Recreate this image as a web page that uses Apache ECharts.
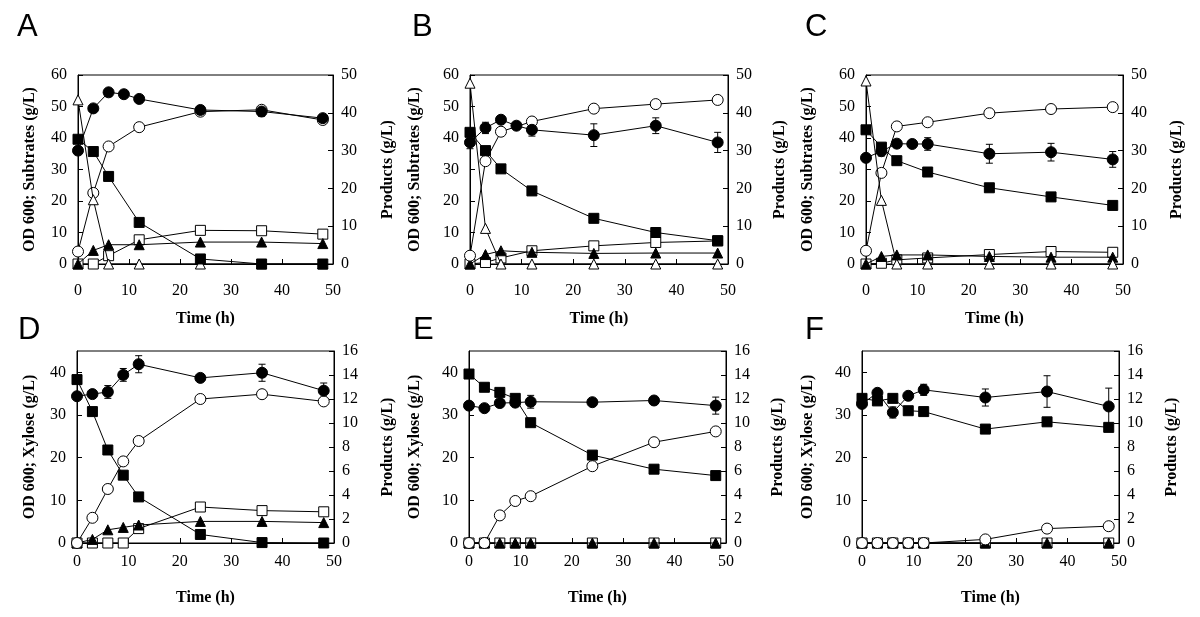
<!DOCTYPE html>
<html><head><meta charset="utf-8">
<script src="https://cdn.jsdelivr.net/npm/echarts@6/dist/echarts.min.js"></script>
<style>html,body{margin:0;padding:0;background:#fff}#c{width:1200px;height:617px}</style>
</head><body><div id="c"></div>
<script>
// ---------- DATA ----------
const times = [0, 3, 6, 9, 12, 24, 36, 48];
const panelLetters = ['A', 'B', 'C', 'D', 'E', 'F'];
const xAxisTitle = 'Time (h)';
const leftTitleTop = 'OD 600; Subtrates (g/L)';
const leftTitleBottom = 'OD 600; Xylose (g/L)';
const rightTitle = 'Products (g/L)';

// Panel A (left axis: OD, filled square, open triangle; right axis: open circle, open square, filled triangle)
const A_od       = [36.0, 49.4, 54.5, 53.9, 52.4, 48.9, 48.4, 46.3];
const A_odErr    = [0, 0, 0, 0, 0, 0.5, 1.5, 0.5];
const A_fSquare  = [39.6, 35.7, 27.8, null, 13.2, 1.6, 0, 0];
const A_oTri     = [52.1, 20.4, 0, null, 0, 0, 0, 0];
const A_oCircle  = [3.3, 18.8, 31.1, null, 36.2, 40.3, 40.8, 38.1];
const A_oSquare  = [0, 0, 2.2, null, 6.4, 8.9, 8.8, 7.9];
const A_fTri     = [0, 3.6, 5.1, null, 5.1, 5.8, 5.8, 5.4];

// Panel B
const B_od       = [38.6, 43.2, 45.8, 43.9, 42.6, 40.9, 43.9, 38.6];
const B_odErr    = [2.0, 1.8, 0.5, 1.0, 2.0, 3.6, 2.5, 3.2];
const B_fSquare  = [41.8, 36.0, 30.2, null, 23.2, 14.5, 10.0, 7.4];
const B_oTri     = [57.4, 11.3, 0, null, 0, 0, 0, 0];
const B_oCircle  = [2.2, 27.2, 35.0, null, 37.7, 41.1, 42.3, 43.4];
const B_oSquare  = [0, 0.4, 1.6, null, 3.5, 4.8, 5.7, 6.1];
const B_fTri     = [0, 2.5, 3.5, null, 3.1, 2.8, 2.9, 2.9];

// Panel C
const C_od       = [33.7, 35.8, 38.2, 38.1, 38.1, 35.0, 35.5, 33.2];
const C_odErr    = [0.5, 1.5, 0.5, 0.5, 2.0, 3.0, 2.8, 2.5];
const C_fSquare  = [42.6, 37.1, 32.8, null, 29.2, 24.2, 21.3, 18.6];
const C_oTri     = [58.1, 20.2, 0, null, 0, 0, 0, 0];
const C_oCircle  = [3.5, 24.1, 36.4, null, 37.5, 39.9, 41.0, 41.5];
const C_oSquare  = [0, 0.2, 1.1, null, 1.6, 2.5, 3.3, 3.1];
const C_fTri     = [0, 2.0, 2.4, null, 2.4, 2.0, 1.8, 1.8];

// Panel D (left axis: OD, filled square; right axis: open circle, open square, filled triangle)
const D_od       = [34.4, 34.9, 35.4, 39.4, 41.9, 38.7, 39.9, 35.7];
const D_odErr    = [0, 0, 1.5, 1.5, 2.0, 0.5, 2.0, 1.8];
const D_fSquare  = [38.3, 30.8, 21.8, 15.9, 10.8, 2.0, 0.1, 0];
const D_oCircle  = [0, 2.1, 4.5, 6.8, 8.5, 12.0, 12.4, 11.8];
const D_oSquare  = [0, 0, 0, 0, 1.2, 3.0, 2.7, 2.6];
const D_fTri     = [0, 0.3, 1.1, 1.3, 1.5, 1.8, 1.8, 1.7];

// Panel E
const E_od       = [32.2, 31.6, 32.8, 32.9, 33.1, 33.0, 33.4, 32.2];
const E_odErr    = [0, 0, 0, 0.5, 1.5, 0, 0, 2.0];
const E_fSquare  = [39.6, 36.5, 35.3, 33.9, 28.2, 20.6, 17.3, 15.8];
const E_oCircle  = [0, 0, 2.3, 3.5, 3.9, 6.4, 8.4, 9.3];
const E_oSquare  = [0, 0, 0, 0, 0, 0, 0, 0];
const E_fTri     = [0, 0, 0, 0, 0, 0, 0, 0];

// Panel F
const F_od       = [32.6, 35.2, 30.6, 34.5, 35.9, 34.1, 35.5, 32.0];
const F_odErr    = [0.5, 0, 1.3, 0, 1.3, 2.0, 3.7, 4.3];
const F_fSquare  = [33.9, 33.3, 33.9, 31.0, 30.8, 26.7, 28.4, 27.1];
const F_oCircle  = [0, 0, 0, 0, 0, 0.3, 1.2, 1.4];
const F_oSquare  = [0, 0, 0, 0, 0, 0, 0, 0];
const F_fTri     = [0, 0, 0, 0, 0, 0, 0, 0];

// ---------- LAYOUT ----------
const panels = [
  {letter:'A', lx:17, ly:12,   grid:{left:78,  top:75,  width:255, height:189}, lMax:60, lInt:10, rMax:50, rInt:10, lTitle:leftTitleTop, lGap:40, rGap:47, xMargin:19,
   left:{od:A_od, err:A_odErr, fSquare:A_fSquare, oTri:A_oTri}, right:{oCircle:A_oCircle, oSquare:A_oSquare, fTri:A_fTri}},
  {letter:'B', lx:412, ly:12,  grid:{left:470, top:75,  width:258, height:189}, lMax:60, lInt:10, rMax:50, rInt:10, lTitle:leftTitleTop, lGap:47, rGap:44, xMargin:19,
   left:{od:B_od, err:B_odErr, fSquare:B_fSquare, oTri:B_oTri}, right:{oCircle:B_oCircle, oSquare:B_oSquare, fTri:B_fTri}},
  {letter:'C', lx:805, ly:12,  grid:{left:866, top:75,  width:257, height:189}, lMax:60, lInt:10, rMax:50, rInt:10, lTitle:leftTitleTop, lGap:50, rGap:46, xMargin:19,
   left:{od:C_od, err:C_odErr, fSquare:C_fSquare, oTri:C_oTri}, right:{oCircle:C_oCircle, oSquare:C_oSquare, fTri:C_fTri}},
  {letter:'D', lx:18, ly:315, grid:{left:77,  top:351, width:257, height:192}, lMax:45, lInt:10, rMax:16, rInt:2, lTitle:leftTitleBottom, lGap:39, rGap:46, xMargin:11,
   left:{od:D_od, err:D_odErr, fSquare:D_fSquare}, right:{oCircle:D_oCircle, oSquare:D_oSquare, fTri:D_fTri}},
  {letter:'E', lx:413, ly:315, grid:{left:469, top:351, width:257, height:192}, lMax:45, lInt:10, rMax:16, rInt:2, lTitle:leftTitleBottom, lGap:46, rGap:44, xMargin:11,
   left:{od:E_od, err:E_odErr, fSquare:E_fSquare}, right:{oCircle:E_oCircle, oSquare:E_oSquare, fTri:E_fTri}},
  {letter:'F', lx:805, ly:315, grid:{left:862, top:351, width:257, height:192}, lMax:45, lInt:10, rMax:16, rInt:2, lTitle:leftTitleBottom, lGap:46, rGap:45, xMargin:11,
   left:{od:F_od, err:F_odErr, fSquare:F_fSquare}, right:{oCircle:F_oCircle, oSquare:F_oSquare, fTri:F_fTri}}
];

// ---------- STYLES ----------
const SERIF = '"Liberation Serif", "Times New Roman", serif';
const SANS = '"Liberation Sans", Arial, sans-serif';
const labelStyle = {color:'#000', fontFamily:SERIF, fontSize:16};
const nameStyle = {color:'#000', fontFamily:SERIF, fontSize:16, fontWeight:'bold'};
const markers = {
  oSquare: {symbol:'rect', size:10, fill:'#fff'},
  oCircle: {symbol:'circle', size:11, fill:'#fff'},
  fTri:    {symbol:'triangle', size:10, fill:'#000'},
  oTri:    {symbol:'triangle', size:10, fill:'#fff'},
  fSquare: {symbol:'rect', size:10, fill:'#000'},
  od:      {symbol:'circle', size:11, fill:'#000'}
};
const drawOrder = ['oSquare', 'fTri', 'oCircle', 'oTri', 'fSquare', 'od'];

function pairs(vals) {
  const out = [];
  vals.forEach((v, i) => { if (v !== null && v !== undefined) out.push([times[i], v]); });
  return out;
}

const option = {
  animation: false,
  backgroundColor: '#fff',
  title: [], grid: [], xAxis: [], yAxis: [], series: []
};

panels.forEach((p, gi) => {
  option.title.push({text:p.letter, left:p.lx, top:p.ly, padding:0,
    textStyle:{fontFamily:SANS, fontSize:31, fontWeight:'normal', color:'#000'}});
  option.grid.push(Object.assign({show:true, borderColor:'#000', borderWidth:1, backgroundColor:'transparent'}, p.grid));
  option.xAxis.push({
    type:'value', gridIndex:gi, min:0, max:50, interval:10,
    name:xAxisTitle, nameLocation:'middle', nameGap:47, nameTextStyle:nameStyle,
    axisLine:{show:true, onZero:false, lineStyle:{color:'#000', width:1}},
    axisTick:{show:true, inside:true, length:5, lineStyle:{color:'#000'}},
    axisLabel:Object.assign({margin:p.xMargin}, labelStyle),
    splitLine:{show:false}
  });
  const li = option.yAxis.length;
  option.yAxis.push({
    type:'value', gridIndex:gi, position:'left', min:0, max:p.lMax, interval:p.lInt,
    name:p.lTitle, nameLocation:'middle', nameGap:p.lGap, nameRotate:90, nameTextStyle:nameStyle,
    axisLine:{show:true, onZero:false, lineStyle:{color:'#000', width:1}},
    axisTick:{show:true, inside:true, length:5, lineStyle:{color:'#000'}},
    axisLabel:Object.assign({margin:11, showMaxLabel: p.lMax % p.lInt === 0,
      formatter: v => (v % p.lInt === 0 ? String(v) : '')}, labelStyle),
    splitLine:{show:false}
  });
  const ri = option.yAxis.length;
  option.yAxis.push({
    type:'value', gridIndex:gi, position:'right', min:0, max:p.rMax, interval:p.rInt,
    name:rightTitle, nameLocation:'middle', nameGap:p.rGap, nameRotate:90, nameTextStyle:nameStyle,
    axisLine:{show:true, onZero:false, lineStyle:{color:'#000', width:1}},
    axisTick:{show:true, inside:true, length:5, lineStyle:{color:'#000'}},
    axisLabel:Object.assign({margin:8}, labelStyle),
    splitLine:{show:false}
  });

  // error bars (OD) on left axis
  const errData = [];
  p.left.od.forEach((v, i) => { if (p.left.err[i] > 0) errData.push([times[i], v, p.left.err[i]]); });
  option.series.push({
    type:'custom', xAxisIndex:gi, yAxisIndex:li, z:1, silent:true,
    data: errData,
    renderItem: (params, api) => {
      const x = api.value(0), y = api.value(1), e = api.value(2);
      const hi = api.coord([x, y + e]), lo = api.coord([x, y - e]);
      const w = 3.5;
      const st = {stroke:'#000', lineWidth:1};
      return {type:'group', children:[
        {type:'line', shape:{x1:hi[0], y1:hi[1], x2:lo[0], y2:lo[1]}, style:st},
        {type:'line', shape:{x1:hi[0]-w, y1:hi[1], x2:hi[0]+w, y2:hi[1]}, style:st},
        {type:'line', shape:{x1:lo[0]-w, y1:lo[1], x2:lo[0]+w, y2:lo[1]}, style:st}
      ]};
    }
  });

  drawOrder.forEach((key, k) => {
    let vals = null, yi = null;
    if (p.left[key]) { vals = p.left[key]; yi = li; }
    else if (p.right[key]) { vals = p.right[key]; yi = ri; }
    if (!vals) return;
    const m = markers[key];
    option.series.push({
      type:'line', xAxisIndex:gi, yAxisIndex:yi, z:2 + k,
      data: pairs(vals), connectNulls:true,
      symbol:m.symbol, symbolSize:m.size, showSymbol:true, clip:false,
      lineStyle:{color:'#000', width:1},
      itemStyle:{color:m.fill, borderColor:'#000', borderWidth:1, opacity:1},
      emphasis:{disabled:true}
    });
  });
});

const chart = echarts.init(document.getElementById('c'), null, {renderer:'canvas', width:1200, height:617});
chart.setOption(option);
</script>
</body></html>
